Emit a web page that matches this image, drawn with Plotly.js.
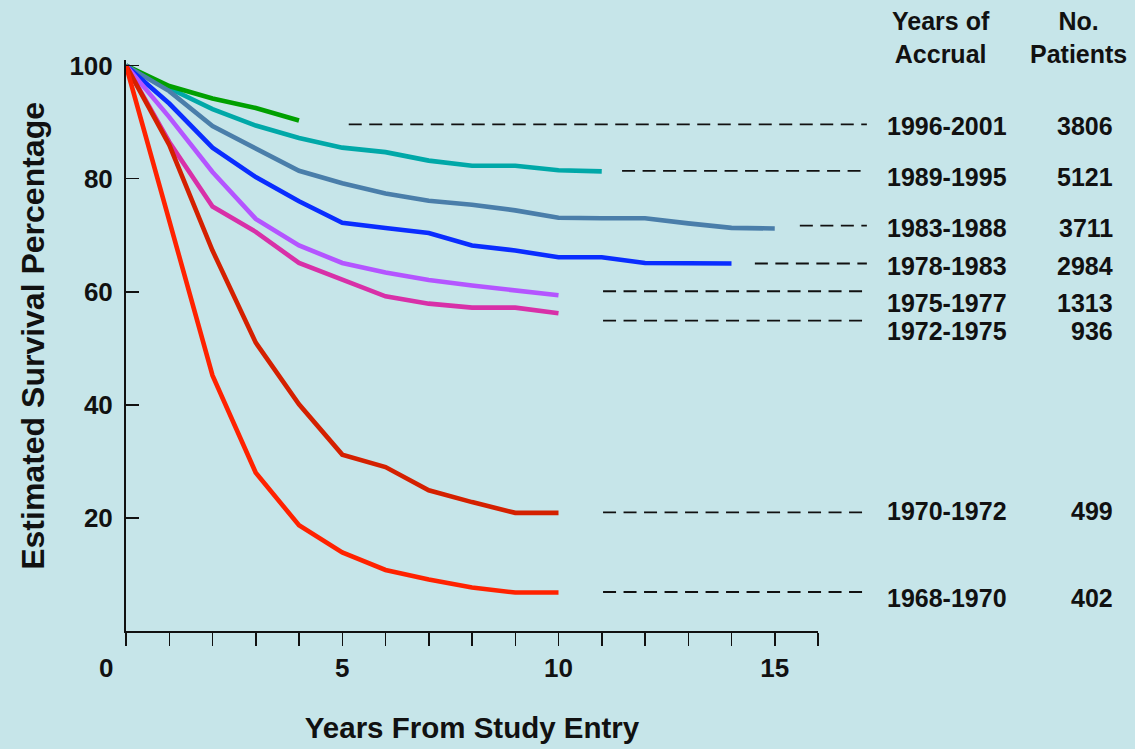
<!DOCTYPE html>
<html>
<head>
<meta charset="utf-8">
<script src="https://cdn.plot.ly/plotly-3.0.1.min.js"></script>
<style>
  html, body { margin: 0; padding: 0; background: #c6e5e9; }
  #chart { width: 1135px; height: 749px; }
</style>
</head>
<body>
<div id="chart"></div>
<script>
// ---- data ----
const accrual  = ['1996-2001', '1989-1995', '1983-1988', '1978-1983', '1975-1977', '1972-1975', '1970-1972', '1968-1970'];
const patients = ['3806', '5121', '3711', '2984', '1313', '936', '499', '402'];

const surv19962001 = [100, 96.4, 94.2, 92.5, 90.3];
const surv19891995 = [100, 96.0, 92.3, 89.4, 87.2, 85.5, 84.7, 83.2, 82.3, 82.3, 81.5, 81.3];
const surv19831988 = [100, 95.5, 89.3, 85.3, 81.4, 79.2, 77.4, 76.1, 75.4, 74.4, 73.1, 73.0, 73.0, 72.1, 71.3, 71.2];
const surv19781983 = [100, 93.3, 85.5, 80.3, 76.0, 72.2, 71.3, 70.4, 68.2, 67.3, 66.1, 66.1, 65.1, 65.1, 65.0];
const surv19751977 = [100, 90.9, 81.2, 72.9, 68.2, 65.1, 63.4, 62.1, 61.1, 60.2, 59.4];
const surv19721975 = [100, 86.5, 75.1, 70.6, 65.1, 62.1, 59.2, 57.9, 57.2, 57.2, 56.2];
const surv19701972 = [100, 86.0, 67.3, 51.0, 40.1, 31.2, 29.0, 24.9, 22.8, 20.9, 20.9];
const surv19681970 = [100, 72.9, 45.2, 28.0, 18.7, 13.9, 10.8, 9.1, 7.7, 6.8, 6.8];

// leader (dashed) line levels and start years, in accrual order
const leaderLevel = [89.6, 81.4, 71.7, 65.0, 60.1, 54.9, 21.0, 6.9];
const leaderStart = [5.15, 11.47, 15.58, 14.54, 11.03, 11.03, 11.03, 11.03];
const leaderEnd = 17.13;

const xTicks = [0, 1, 2, 3, 4, 5, 6, 7, 8, 9, 10, 11, 12, 13, 14, 15, 16];
const xTickText = ['', '', '', '', '', '5', '', '', '', '', '10', '', '', '', '', '15', ''];
const yTicks = [20, 40, 60, 80, 100];

// ---- styles ----
const colors = {
  '1996-2001': '#00a000',
  '1989-1995': '#00a8a8',
  '1983-1988': '#4a7eaa',
  '1978-1983': '#0a2dff',
  '1975-1977': '#b455ff',
  '1972-1975': '#d830a8',
  '1970-1972': '#d42000',
  '1968-1970': '#ff2200'
};
const seriesByLabel = {
  '1996-2001': surv19962001,
  '1989-1995': surv19891995,
  '1983-1988': surv19831988,
  '1978-1983': surv19781983,
  '1975-1977': surv19751977,
  '1972-1975': surv19721975,
  '1970-1972': surv19701972,
  '1968-1970': surv19681970
};
const drawOrder = ['1989-1995', '1996-2001', '1983-1988', '1978-1983', '1975-1977', '1972-1975', '1970-1972', '1968-1970'];
const labelShiftPx = [2, 6, 2, 2, 12, 10, -1, 6];

const FONT = 'Liberation Sans, Arial, Helvetica, sans-serif';
const BG = '#c6e5e9';

const traces = drawOrder.map(function (lab) {
  const vals = seriesByLabel[lab];
  return {
    type: 'scatter', mode: 'lines',
    x: vals.map(function (_, i) { return i; }),
    y: vals,
    xaxis: 'x', yaxis: 'y',
    line: { color: colors[lab], width: 4.6 },
    hoverinfo: 'skip', showlegend: false
  };
});

// dashed leader lines on the wide overlay axis
const lx = [], ly = [];
leaderLevel.forEach(function (v, i) {
  lx.push(leaderStart[i], leaderEnd, null);
  ly.push(v, v, null);
});
traces.push({
  type: 'scatter', mode: 'lines', x: lx, y: ly,
  xaxis: 'x2', yaxis: 'y',
  line: { color: '#111', width: 1.8, dash: '13px,7.5px' },
  hoverinfo: 'skip', showlegend: false, connectgaps: false
});

const plotL = 126, plotR = 818, W = 1135;
const xDomEnd = (plotR - plotL) / (W - plotL);

const annotations = [];
accrual.forEach(function (lab, i) {
  annotations.push({
    xref: 'paper', yref: 'y', x: (885 - plotL) / (W - plotL), y: leaderLevel[i],
    xanchor: 'left', yanchor: 'middle', yshift: -labelShiftPx[i],
    text: lab, showarrow: false,
    font: { family: FONT, size: 25, color: '#111', weight: 700 }
  });
  annotations.push({
    xref: 'paper', yref: 'y', x: (1115 - plotL) / (W - plotL), y: leaderLevel[i],
    xanchor: 'right', yanchor: 'middle', yshift: -labelShiftPx[i],
    text: patients[i], showarrow: false,
    font: { family: FONT, size: 25, color: '#111', weight: 700 }
  });
});
annotations.push({
  xref: 'paper', yref: 'paper', x: (941 - plotL) / (W - plotL), y: 1.040,
  xanchor: 'center', yanchor: 'middle', text: 'Years of<br>Accrual', showarrow: false,
  font: { family: FONT, size: 25, color: '#111', weight: 700 }
});
annotations.push({
  xref: 'paper', yref: 'paper', x: (1078 - plotL) / (W - plotL), y: 1.040,
  xanchor: 'center', yanchor: 'middle', text: 'No.<br>Patients', showarrow: false,
  font: { family: FONT, size: 25, color: '#111', weight: 700 }
});
// y axis title
annotations.push({
  xref: 'paper', yref: 'paper', x: (33 - plotL) / (W - plotL), y: 0.517,
  xanchor: 'center', yanchor: 'middle', textangle: -90,
  text: 'Estimated Survival Percentage', showarrow: false,
  font: { family: FONT, size: 32, color: '#111', weight: 700 }
});
// corner "0"
annotations.push({
  xref: 'x', yref: 'y', x: 0, y: 0, xshift: -20, yshift: -37,
  xanchor: 'center', yanchor: 'middle', text: '0', showarrow: false,
  font: { family: FONT, size: 26, color: '#111', weight: 700 }
});

const layout = {
  width: 1135, height: 749,
  paper_bgcolor: BG, plot_bgcolor: 'rgba(0,0,0,0)',
  margin: { l: plotL, r: 0, t: 60, b: 118, pad: 0 },
  showlegend: false,
  xaxis: {
    domain: [0, xDomEnd], range: [0, 16], anchor: 'y',
    showline: true, linecolor: '#111', linewidth: 2,
    showgrid: false, zeroline: false,
    ticks: 'outside', ticklen: 13, tickwidth: 1.5, tickcolor: '#111',
    tickmode: 'array', tickvals: xTicks, ticktext: xTickText,
    tickfont: { family: FONT, size: 26, color: '#111', weight: 700 },
    title: { text: 'Years From Study Entry', standoff: 35,
             font: { family: FONT, size: 29.5, color: '#111', weight: 700 } },
    fixedrange: true
  },
  xaxis2: {
    domain: [0, 1], range: [0, 16 / xDomEnd], anchor: 'y',
    visible: false, showgrid: false, zeroline: false, fixedrange: true
  },
  yaxis: {
    domain: [0, 1], range: [0, 101], anchor: 'x',
    showline: true, linecolor: '#111', linewidth: 2,
    showgrid: false, zeroline: false,
    ticks: 'inside', ticklen: 13, tickwidth: 1.5, tickcolor: '#111',
    tickmode: 'array', tickvals: yTicks,
    tickfont: { family: FONT, size: 26, color: '#111', weight: 700 },
    ticklabelstandoff: 6,
    fixedrange: true
  },
  annotations: annotations
};

Plotly.newPlot('chart', traces, layout, { staticPlot: true, displayModeBar: false });
</script>
</body>
</html>
